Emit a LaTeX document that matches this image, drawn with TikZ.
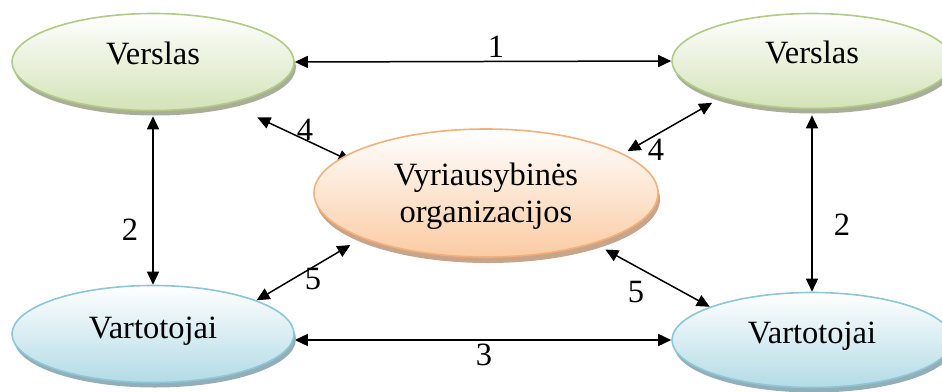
\documentclass[tikz,border=0pt]{standalone}
\usepackage{fontspec}
\setmainfont{Liberation Serif}
\usetikzlibrary{shapes.geometric,shadows,arrows.meta,backgrounds}
\definecolor{gfill}{HTML}{D3E3B8}
\definecolor{gline}{HTML}{B1CB86}
\definecolor{gshad}{HTML}{A9AE98}
\definecolor{ofill}{HTML}{FBCBA3}
\definecolor{oline}{HTML}{F5B07A}
\definecolor{oshad}{HTML}{C8A58A}
\definecolor{bfill}{HTML}{B3DBE6}
\definecolor{bline}{HTML}{8BC7D8}
\definecolor{bshad}{HTML}{93AEB6}
\begin{document}
\begin{tikzpicture}[x=1pt,y=-1pt,
  oval/.style={ellipse, inner sep=0pt, line width=1.6pt, top color=white,
    font=\fontsize{32.5}{37}\selectfont, text height=22pt},
  biz/.style={oval, draw=gline, bottom color=gfill,
    general shadow={fill=gshad, shadow xshift=2pt, shadow yshift=-5pt},
    minimum width=282pt, minimum height=97pt},
  cons/.style={oval, draw=bline, bottom color=bfill,
    general shadow={fill=bshad, shadow xshift=2pt, shadow yshift=-5pt},
    minimum width=282pt, minimum height=97pt},
  gov/.style={oval, draw=oline, bottom color=ofill, align=center, text height=,
    general shadow={fill=oshad, shadow xshift=2pt, shadow yshift=-6pt},
    minimum width=344pt, minimum height=128pt},
  conn/.style={arrows={Triangle[length=13pt,width=12pt]-Triangle[length=13pt,width=12pt]},
    line width=1.5pt, black},
  lbl/.style={font=\fontsize{32.5}{37}\selectfont, inner sep=0pt}
]
\useasboundingbox (0,0) rectangle (942,391);

\node[biz, text depth=18pt] (tl) at (153,62) {Verslas};
\node[biz, text depth=18pt, minimum width=280pt, minimum height=95pt] (tr) at (812,61) {Verslas};
\node[gov] (c) at (486,193) {\rule{0pt}{29pt}Vyriausybinės\\organizacijos};
\node[cons, text depth=14pt] (bl) at (153,334) {Vartotojai};
\node[cons, text depth=16pt, minimum width=280pt, minimum height=95pt] (br) at (812,340) {Vartotojai};

\begin{pgfonlayer}{background}
\draw[conn] (tl.east) -- (tr.west);
\draw[conn] (bl.east |- br.west) -- (br.west);
\draw[conn, shorten <=5pt] (tl.south) -- (bl.north);
\draw[conn, shorten <=6pt] (tr.south) -- (br.north);
\draw[conn, shorten <=-10pt, shorten >=32pt] (c.166) -- (tl.-29);
\draw[conn, shorten <=5pt, shorten >=10pt] (c.16) -- (tr.202);
\draw[conn, shorten <=13.5pt] (c.200) -- (bl.18);
\draw[conn, shorten <=12.6pt] (c.-25) -- (br.162);
\end{pgfonlayer}

\node[lbl] (n1) at (496,47) {1};
\node[lbl] (n2a) at (130,230) {2};
\node[lbl] (n2b) at (842,225) {2};
\node[lbl] (n3) at (484,355) {3};
\node[lbl] (n4a) at (305,130) {4};
\node[lbl] (n4b) at (656,150) {4};
\node[lbl] (n5a) at (313,279) {5};
\node[lbl] (n5b) at (636,292) {5};
\end{tikzpicture}
\end{document}
